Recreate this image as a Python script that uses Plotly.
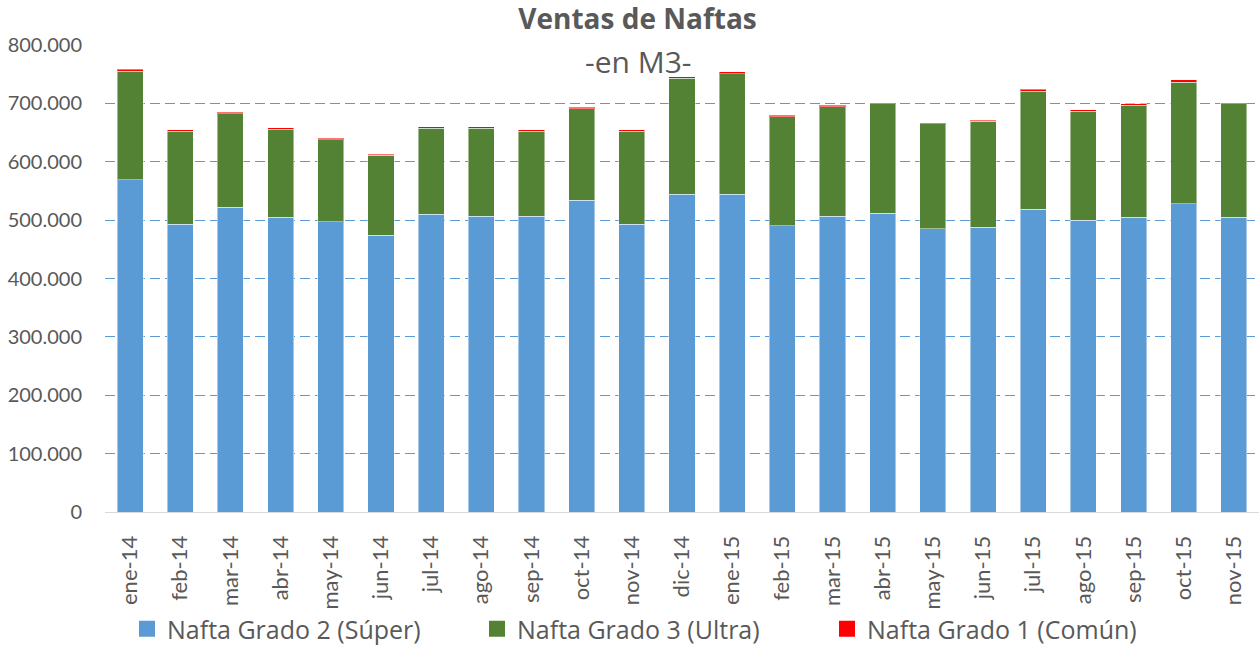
import plotly.graph_objects as go

meses = ["ene-14", "feb-14", "mar-14", "abr-14", "may-14", "jun-14", "jul-14", "ago-14",
         "sep-14", "oct-14", "nov-14", "dic-14", "ene-15", "feb-15", "mar-15", "abr-15",
         "may-15", "jun-15", "jul-15", "ago-15", "sep-15", "oct-15", "nov-15"]

grado2_super = [569000, 493000, 522000, 505000, 497000, 474500, 510000, 507000,
                507000, 534000, 493000, 544000, 544000, 490000, 507000, 512000,
                485000, 488000, 519000, 500000, 505000, 528000, 505000]

grado3_ultra = [186000, 159000, 160000, 150500, 141000, 136500, 147000, 150000,
                145000, 157000, 159000, 199000, 207000, 187000, 187000, 187500,
                180000, 181000, 202000, 186500, 191500, 208000, 194500]

grado1_comun = [3500, 2500, 3000, 2500, 2500, 2000, 3000, 3000,
                2500, 2500, 2500, 3000, 3000, 3000, 2500, 1700,
                2200, 2200, 3000, 2500, 3000, 4500, 1700]

series = [
    ("Nafta Grado 2 (Súper)", grado2_super, "#5B9BD5"),
    ("Nafta Grado 3 (Ultra)", grado3_ultra, "#548235"),
    ("Nafta Grado 1 (Común)", grado1_comun, "#FF0000"),
]

GRAY = "#595959"
W, H = 1259, 647

fig = go.Figure()
for name, vals, col in series:
    fig.add_trace(go.Bar(x=meses, y=vals, name=name, showlegend=False, legendgroup=name,
                         marker=dict(color=col, line=dict(color="rgba(255,255,255,0.45)", width=1))))
# legend entries with larger square symbols
for name, vals, col in series:
    fig.add_trace(go.Scatter(x=[None], y=[None], mode="markers", name=name, legendgroup=name,
                             marker=dict(symbol="square", size=16, color=col)))

fig.update_layout(
    barmode="stack",
    bargap=0.48,
    width=W, height=H,
    margin=dict(l=105, r=0, t=45, b=135),
    paper_bgcolor="white", plot_bgcolor="white",
    separators=",.",
    font=dict(family="Lato", color=GRAY),
    title=dict(text="<b>Ventas de Naftas</b>", x=637.5 / W, xref="container", xanchor="center",
               y=1 - 19.5 / H, yref="container", yanchor="middle",
               font=dict(family="Open Sans", size=28, color=GRAY)),
    legend=dict(orientation="h", xref="container", yref="container",
                x=127 / W, xanchor="left", y=1 - 629 / H, yanchor="middle",
                font=dict(family="Open Sans", size=25, color=GRAY), traceorder="normal",
                entrywidth=305, entrywidthmode="pixels", bgcolor="rgba(0,0,0,0)"),
    showlegend=True,
    hovermode=False,
    annotations=[dict(text="-en M3-", xref="paper", yref="paper", x=(638 - 105) / 1154,
                      y=(512 - 61) / 467, xanchor="center", yanchor="middle", showarrow=False,
                      font=dict(family="Open Sans", size=30, color=GRAY))],
)

fig.update_yaxes(range=[0, 800000], dtick=100000, tickformat=",d", automargin=False,
                 showgrid=True, gridcolor="#5B9BD5", griddash="10px,5px", gridwidth=1.4,
                 zeroline=False, showline=False,
                 ticks="outside", ticklen=18, tickcolor="rgba(0,0,0,0)",
                 tickfont=dict(family="Lato", size=20, color=GRAY))
fig.update_xaxes(tickangle=-90, showline=True, linecolor="#D9D9D9", linewidth=1, automargin=False,
                 tickfont=dict(family="Lato", size=22, color=GRAY), ticklabelstandoff=14)

fig.write_html("out.html", config={"displayModeBar": False},
               post_script="document.body.style.margin='0';")
